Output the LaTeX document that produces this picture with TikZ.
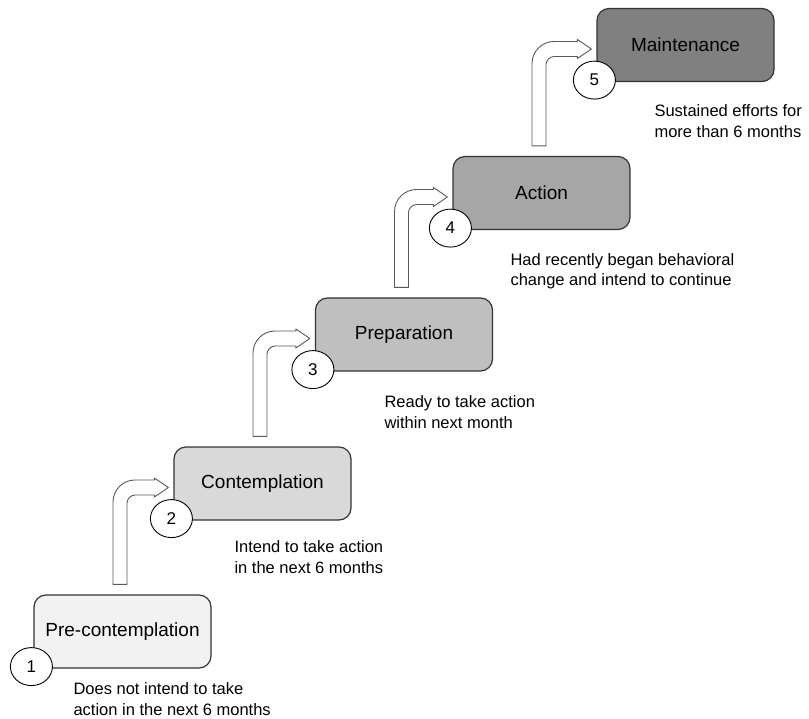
\documentclass[tikz,border=0pt]{standalone}
\usepackage{fontspec}
\setmainfont{Liberation Sans}
\usetikzlibrary{calc,shapes.geometric}

\definecolor{stageone}{HTML}{F2F2F2}
\definecolor{stagetwo}{HTML}{D9D9D9}
\definecolor{stagethree}{HTML}{BFBFBF}
\definecolor{stagefour}{HTML}{A6A6A6}
\definecolor{stagefive}{HTML}{808080}

\tikzset{
  stage/.style={draw=black!80, line width=1.2pt, rounded corners=12pt,
    minimum width=177pt, minimum height=73pt, font=\fontsize{19}{23}\selectfont},
  stagenum/.style={draw, ellipse, fill=white, line width=0.9pt, inner sep=0pt,
    minimum width=42pt, minimum height=38pt, font=\fontsize{17}{20}\selectfont},
  stagenote/.style={anchor=west, align=left, font=\fontsize{16.5}{20.5}\selectfont},
  stagearrow/.style={draw=black!65, fill=white, line width=0.9pt, line join=round}
}

% bent block arrow from the top of #1 to the left side of #2
\newcommand{\stagearrow}[2]{%
  \path[stagearrow] let \p1 = (#1.north), \p2 = (#2.west) in
    (\x1-9.5pt, \y1+10pt) -- (\x1-9.5pt, \y2-18.5pt)
    .. controls (\x1-9.5pt, \y2-6.4pt) and (\x1+0.4pt, \y2+3.5pt) .. (\x1+12.5pt, \y2+3.5pt)
    -- (\x2-19pt, \y2+3.5pt) -- (\x2-19pt, \y2+5.5pt) -- (\x2-5pt, \y2-4pt)
    -- (\x2-19pt, \y2-13.5pt) -- (\x2-19pt, \y2-11.5pt)
    -- (\x1+12.5pt, \y2-11.5pt)
    .. controls (\x1+8.1pt, \y2-11.5pt) and (\x1+4.5pt, \y2-15.9pt) .. (\x1+4.5pt, \y2-19.5pt)
    -- (\x1+4.5pt, \y1+10pt) -- cycle;
}

\begin{document}
\begin{tikzpicture}[x=1pt, y=-1pt]
  \useasboundingbox (0,0) rectangle (809,719);

  % the five stages
  \node[stage, fill=stageone]   (pre)   at (122.5, 631.5) {Pre-contemplation};
  \node[stage, fill=stagetwo]   (cont)  at (262.5, 483.5) {Contemplation};
  \node[stage, fill=stagethree] (prep)  at (404, 334.5)   {Preparation};
  \node[stage, fill=stagefour]  (act)   at (541.5, 193)   {Action};
  \node[stage, fill=stagefive]  (maint) at (685.5, 45)    {Maintenance};

  \stagearrow{pre}{cont}
  \stagearrow{cont}{prep}
  \stagearrow{prep}{act}
  \stagearrow{act}{maint}

  \node[stagenum] (n1) at ($ (pre.south west) + (-2,-2) $)   {1};
  \node[stagenum] (n2) at ($ (cont.south west) + (-2,-2) $)  {2};
  \node[stagenum] (n3) at ($ (prep.south west) + (-2,-2) $)  {3};
  \node[stagenum] (n4) at ($ (act.south west) + (-2,-2) $)   {4};
  \node[stagenum] (n5) at ($ (maint.south west) + (-2,-2) $) {5};

  \node[stagenote] (t1) at (70, 699)  {Does not intend to take\\action in the next 6 months};
  \node[stagenote] (t2) at (231, 557) {Intend to take action\\in the next 6 months};
  \node[stagenote] (t3) at (381, 412) {Ready to take action\\within next month};
  \node[stagenote] (t4) at (507, 271) {Had recently began behavioral\\change and intend to continue};
  \node[stagenote] (t5) at (651, 121) {Sustained efforts for\\more than 6 months};
\end{tikzpicture}
\end{document}
